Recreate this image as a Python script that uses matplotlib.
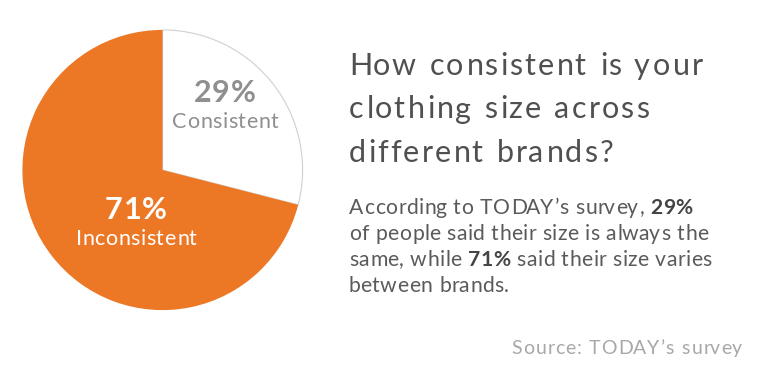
import matplotlib
matplotlib.use("Agg")
import matplotlib.pyplot as plt
from matplotlib import font_manager
from matplotlib.font_manager import FontProperties
from matplotlib.ft2font import FT2Font
try:
    from matplotlib.ft2font import Kerning
    KERN = Kerning.DEFAULT
except ImportError:
    from matplotlib.ft2font import KERNING_DEFAULT as KERN

# data
labels = ["Consistent", "Inconsistent"]
shares = [29, 71]
slice_colors = ["#ffffff", "#ec7826"]

title_lines = ["How consistent is your", "clothing size across", "different brands?"]
# body text as (text, bold) segments per line
body_lines = [
    [("According to TODAY\u2019s survey, ", False), ("29%", True)],
    [("of people said their size is always the", False)],
    [("same, while ", False), ("71%", True), (" said their size varies", False)],
    [("between brands.", False)],
]
source = "Source: TODAY\u2019s survey"

FAMILY = "Lato"
DPI = 100
_fonts = {}


def get_font(weight, size):
    key = (weight, size)
    if key not in _fonts:
        prop = FontProperties(family=FAMILY, weight=weight, size=size)
        f = FT2Font(font_manager.findfont(prop))
        f.set_size(size, DPI)
        _fonts[key] = (f, prop)
    return _fonts[key]


def tracked_text(ax, x, y, segs, size, track, ha="left"):
    """Draw text with a little extra letter spacing; segs = [(text, weight, color), ...]"""
    items = []
    pen = 0.0
    prev = None
    for txt, weight, color in segs:
        f, prop = get_font(weight, size)
        for ch in txt:
            idx = f.get_char_index(ord(ch))
            if prev is not None and prev[0] is f:
                pen += f.get_kerning(prev[1], idx, KERN) / 64
            g = f.load_char(ord(ch))
            bx = max(g.horiBearingX / 64, 0)
            if ch != " ":
                items.append((ch, pen + bx, prop, color))
            # word spaces get a bit more room than letter gaps
            pen += g.linearHoriAdvance / 65536 + (track * 1.6 if ch == " " else track)
            prev = (f, idx)
    start = items[0][1]
    width = pen - track - start
    x0 = {"left": x, "center": x - width / 2, "right": x - width}[ha] - start
    for ch, px, prop, color in items:
        ax.text(x0 + px, y, ch, fontproperties=prop, color=color, va="baseline")


W, H = 760, 378
fig = plt.figure(figsize=(W / DPI, H / DPI), dpi=DPI)
fig.patch.set_facecolor("white")

# pie
cx, cy, r = 162.5, 170, 141.5
pax = fig.add_axes([(cx - r) / W, (H - cy - r) / H, 2 * r / W, 2 * r / H])
wedges, _ = pax.pie(shares, colors=slice_colors, startangle=90, counterclock=False,
                    wedgeprops=dict(linewidth=0))
wedges[0].set_edgecolor("#d0d0d0")
wedges[0].set_linewidth(0.8)
pax.set_xlim(-1.01, 1.01)
pax.set_ylim(-1.01, 1.01)
pax.set_aspect("equal")
pax.axis("off")

# overlay axes in pixel coordinates (y down)
ax = fig.add_axes([0, 0, 1, 1])
ax.set_xlim(0, W)
ax.set_ylim(H, 0)
ax.axis("off")

# slice labels
tracked_text(ax, 224, 102, [(f"{shares[0]}%", "bold", "#8f8f8f")], 22, 0.8, ha="center")
tracked_text(ax, 225, 128, [(labels[0], "normal", "#8f8f8f")], 15.5, 0.6, ha="center")
tracked_text(ax, 135, 219, [(f"{shares[1]}%", "bold", "white")], 22, 0.8, ha="center")
tracked_text(ax, 136, 245, [(labels[1], "normal", "white")], 15.5, 0.6, ha="center")

# title
for i, line in enumerate(title_lines):
    tracked_text(ax, 349, 75 + i * 43.5, [(line, "normal", "#505050")], 22, 2.1)

# body with bold pieces
for i, segs in enumerate(body_lines):
    segs = [(t, "bold" if b else "normal", "#444444" if b else "#5a5a5a") for t, b in segs]
    tracked_text(ax, 349, 214 + i * 26, segs, 15.25, 0.4)

tracked_text(ax, 742, 354, [(source, "normal", "#a8a8a8")], 14, 0.9, ha="right")

fig.savefig("out.png", dpi=DPI, facecolor="white")
